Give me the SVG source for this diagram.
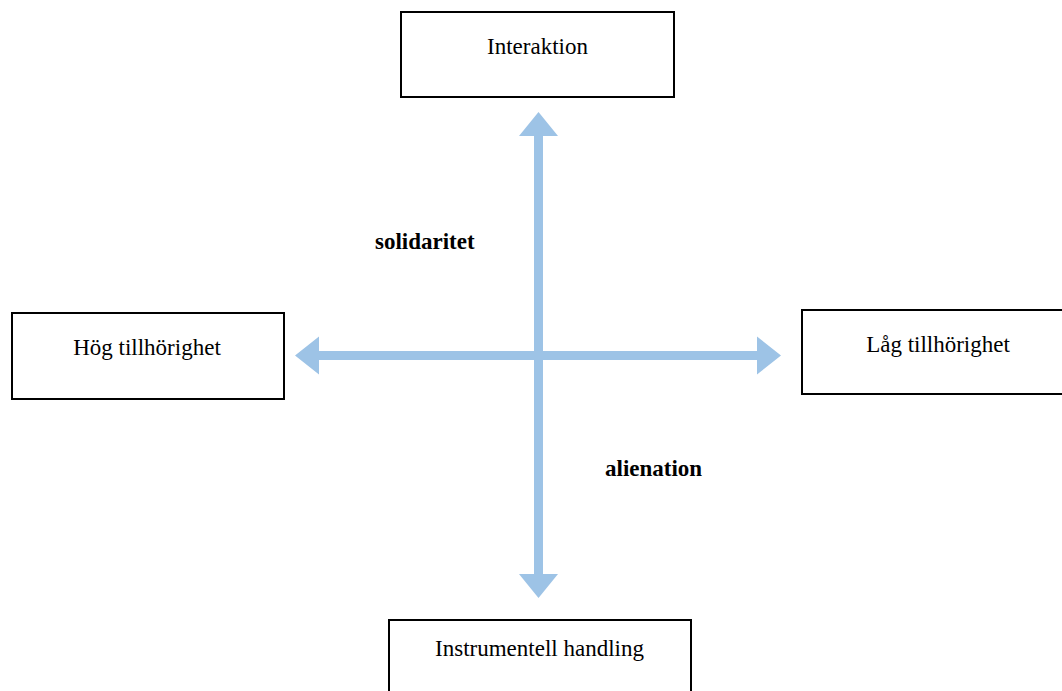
<svg xmlns="http://www.w3.org/2000/svg" width="1062" height="691" viewBox="0 0 1062 691">
<style>
.box{fill:#fff;stroke:#000;stroke-width:2}
.lbl{font-family:"Liberation Serif","Times New Roman",serif;font-size:23px;fill:#000;text-anchor:middle}
.b{font-weight:bold;text-anchor:start}
.arr{fill:#9DC3E6}
</style>
<rect width="1062" height="691" fill="#fff"/>
<g id="connectors">
<path class="arr" d="M538.5,112 L519,136 L534,136 L534,574 L519,574 L538.5,598 L558,574 L543,574 L543,136 L558,136 Z"/>
<path class="arr" d="M295,355.5 L319,336.5 L319,351 L757,351 L757,336.5 L781,355.5 L757,374.5 L757,360 L319,360 L319,374.5 Z"/>
</g>
<g id="interaktion"><rect class="box" x="401" y="12" width="273" height="85"/><text class="lbl" x="537.5" y="53.5">Interaktion</text></g>
<g id="hog"><rect class="box" x="12" y="313" width="272" height="86"/><text class="lbl" x="147" y="354.5">Hög tillhörighet</text></g>
<g id="lag"><rect class="box" x="802" y="310" width="272" height="84"/><text class="lbl" x="938" y="352">Låg tillhörighet</text></g>
<g id="instrumentell"><rect class="box" x="389" y="620" width="302" height="90"/><text class="lbl" x="539.5" y="656">Instrumentell handling</text></g>
<g id="solidaritet"><text class="lbl b" x="375" y="248.5">solidaritet</text></g>
<g id="alienation"><text class="lbl b" x="605" y="476">alienation</text></g>
</svg>
